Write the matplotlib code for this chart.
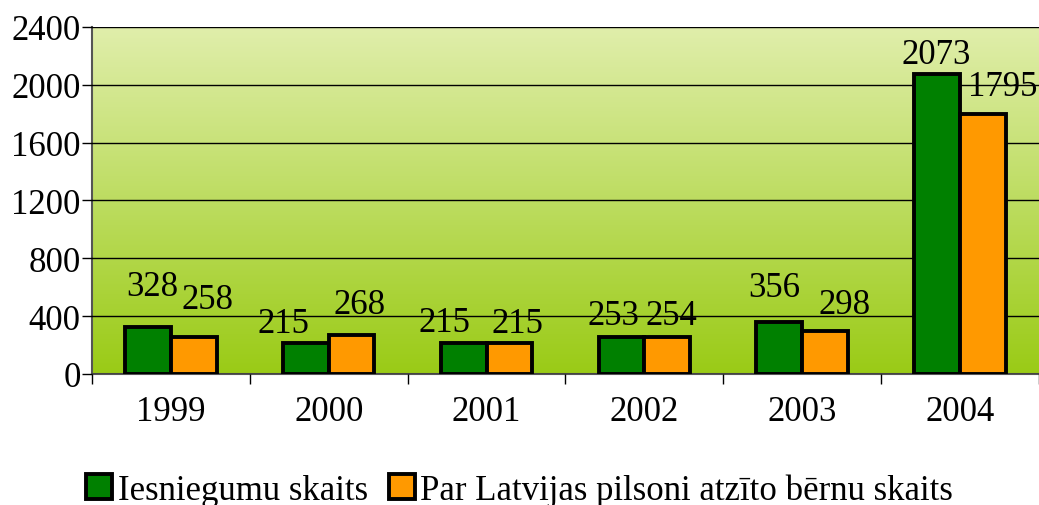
import numpy as np
import matplotlib.pyplot as plt
from matplotlib.colors import LinearSegmentedColormap

# data
years = ["1999", "2000", "2001", "2002", "2003", "2004"]
iesniegumi = [328, 215, 215, 253, 356, 2073]
atzitie = [258, 268, 215, 254, 298, 1795]
labels = ["Iesniegumu skaits", "Par Latvijas pilsoni atzīto bērnu skaits"]

# value label offsets from the bar top centre (points), as placed in the original
dx_green = [3, -16, -14, -6, -4, -1]
dy_green = [29, 14, 15, 16, 25, 14]
dx_orange = [10, 6, 6, 3, 14, 14]
dy_orange = [27, 22, 14, 16, 19, 20]

plt.rcParams['font.family'] = ['Liberation Serif', 'DejaVu Serif']

fig = plt.figure(figsize=(10.39, 5.06), dpi=100)
ax = fig.add_axes([0.0885, 0.259, 0.9115, 0.6857])

# gradient background
cmap = LinearSegmentedColormap.from_list("bg", ["#9acb16", "#e0eeab"])
grad = np.linspace(0, 1, 256).reshape(-1, 1)
ax.imshow(grad, cmap=cmap, aspect="auto", origin="lower",
          extent=[0, 1, 0, 1], transform=ax.transAxes, zorder=0)

x = np.arange(len(years))
w = 0.29
b1 = ax.bar(x - w / 2, iesniegumi, w, color="#008000", edgecolor="black",
            linewidth=2.8, label=labels[0], zorder=3)
b2 = ax.bar(x + w / 2, atzitie, w, color="#ff9900", edgecolor="black",
            linewidth=2.8, label=labels[1], zorder=3)

for bars, vals, dxs, dys in [(b1, iesniegumi, dx_green, dy_green),
                             (b2, atzitie, dx_orange, dy_orange)]:
    for r, v, dx, dy in zip(bars, vals, dxs, dys):
        ax.annotate(str(v), (r.get_x() + r.get_width() / 2, v),
                    xytext=(dx, dy), textcoords="offset points",
                    ha="center", va="center", fontsize=25, zorder=4)

ax.set_xlim(-0.5, len(years) - 0.5)
ax.set_ylim(0, 2400)
ax.set_yticks(range(0, 2401, 400))
ax.yaxis.grid(True, color="black", linewidth=1)
ax.set_axisbelow(False)
for gl in ax.get_ygridlines():
    gl.set_zorder(1)

ax.set_xticks(x)
ax.set_xticklabels(years)
ax.set_xticks(np.arange(-0.5, len(years), 1), minor=True)
ax.tick_params(axis="x", which="major", length=0, pad=15, labelsize=25)
ax.tick_params(axis="x", which="minor", length=7, width=1)
ax.tick_params(axis="y", length=7, width=1, labelsize=25, pad=1)

for s in ["top", "right"]:
    ax.spines[s].set_visible(False)
ax.spines["left"].set_color("#555555")
ax.spines["left"].set_linewidth(1.5)
ax.spines["bottom"].set_color("#555555")
ax.spines["bottom"].set_linewidth(1.5)

fig.legend(handles=[b1, b2], labels=labels, loc="center",
           bbox_to_anchor=(0.5, 0.03), ncol=2, frameon=False,
           fontsize=25, handlelength=0.75, handleheight=0.75,
           handletextpad=0.15, columnspacing=0.6)

fig.savefig("out.png", dpi=100)
